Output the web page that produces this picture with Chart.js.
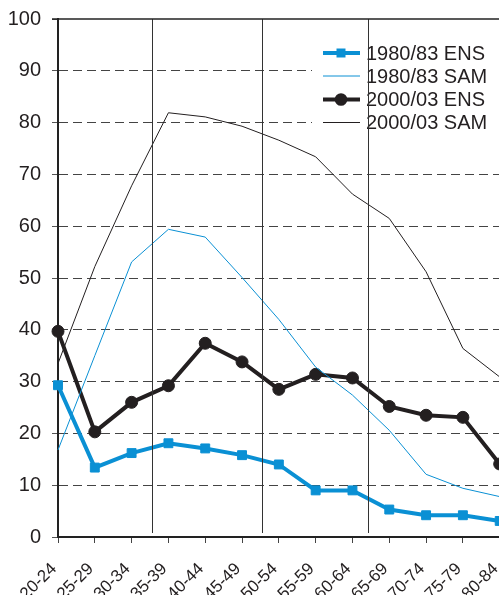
<!DOCTYPE html>
<html>
<head>
<meta charset="utf-8">
<title>ENS / SAM</title>
<script src="https://cdn.jsdelivr.net/npm/chart.js@4.4.1/dist/chart.umd.min.js"></script>
<style>
    html, body { margin: 0; padding: 0; background: #fff; overflow: hidden; }
    canvas { display: block; }
</style>
</head>
<body>
<canvas id="chartCanvas" width="507" height="612"></canvas>
<script>
// Data

var ageGroups = ['20-24', '25-29', '30-34', '35-39', '40-44', '45-49', '50-54',
    '55-59', '60-64', '65-69', '70-74', '75-79', '80-84'];

var ens1980 = [29.3, 13.4, 16.2, 18.1, 17.1, 15.8, 14.0, 9.0, 9.0, 5.3, 4.2, 4.2, 3.1];
var sam1980 = [16.8, 35.0, 53.1, 59.4, 57.9, 50.1, 42.0, 32.8, 27.4, 20.6, 12.1, 9.4, 7.8];
var ens2000 = [39.7, 20.3, 26.0, 29.2, 37.4, 33.8, 28.5, 31.4, 30.7, 25.2, 23.5, 23.1, 14.1];
var sam2000 = [33.5, 52.2, 67.8, 81.9, 81.1, 79.3, 76.6, 73.4, 66.2, 61.5, 51.2, 36.4, 30.9];

var BLUE = '#0a90d4';
var DARK = '#231f20';
var FONT = "'Liberation Sans', Arial, sans-serif";
var AXIS_Y = 537; // pixel row of the x axis

// legend box, vertical separators and top frame, drawn over the datasets
var decorPlugin = {
    id: 'decor',
    afterDatasetsDraw: function (chart) {
        var ctx = chart.ctx;
        var area = chart.chartArea;
        var x = chart.scales.x;
        var step = x.getPixelForValue(1) - x.getPixelForValue(0);

        ctx.save();

        // legend
        ctx.fillStyle = '#fff';
        ctx.fillRect(312, 37, chart.width - 312, 97);
        var rowY = [53, 76, 99.5, 122.5];
        chart.data.datasets.forEach(function (ds, i) {
            var y = rowY[i];
            ctx.strokeStyle = ds.borderColor;
            ctx.lineWidth = ds.borderWidth;
            ctx.beginPath();
            ctx.moveTo(323, y);
            ctx.lineTo(360, y);
            ctx.stroke();
            if (ds.pointRadius > 0) {
                ctx.fillStyle = ds.borderColor;
                ctx.beginPath();
                if (ds.pointStyle === 'rect') {
                    ctx.rect(341 - 4.5, y - 4.5, 9, 9);
                } else {
                    ctx.arc(341, y, 6.3, 0, Math.PI * 2);
                }
                ctx.fill();
            }
            ctx.fillStyle = '#231f20';
            ctx.font = '20px ' + FONT;
            ctx.textAlign = 'left';
            ctx.textBaseline = 'middle';
            ctx.fillText(ds.label, 366, y + 1);
        });

        // separators between periods
        ctx.strokeStyle = '#333';
        ctx.lineWidth = 1;
        [2.55, 5.54, 8.42].forEach(function (f) {
            var px = Math.round(x.getPixelForValue(0) + f * step) + 0.5;
            ctx.beginPath();
            ctx.moveTo(px, area.top);
            ctx.lineTo(px, area.bottom - 4);
            ctx.stroke();
        });

        // top frame
        ctx.strokeStyle = '#222';
        ctx.lineWidth = 1.5;
        ctx.beginPath();
        ctx.moveTo(area.left - 6, area.top);
        ctx.lineTo(chart.width, area.top);
        ctx.stroke();

        ctx.restore();
    }
};

var chartData = {
    labels: ageGroups,
    datasets: [{
        label: '1980/83 ENS',
        data: ens1980,
        borderColor: BLUE,
        backgroundColor: BLUE,
        borderWidth: 4,
        pointStyle: 'rect',
        pointRadius: 6.3,
        pointBorderWidth: 1,
        pointBackgroundColor: BLUE,
        pointBorderColor: BLUE
    }, {
        label: '1980/83 SAM',
        data: sam1980,
        borderColor: BLUE,
        backgroundColor: BLUE,
        borderWidth: 1,
        pointRadius: 0
    }, {
        label: '2000/03 ENS',
        data: ens2000,
        borderColor: DARK,
        backgroundColor: DARK,
        borderWidth: 4,
        pointStyle: 'circle',
        pointRadius: 6,
        pointBorderWidth: 1,
        pointBackgroundColor: DARK,
        pointBorderColor: DARK
    }, {
        label: '2000/03 SAM',
        data: sam2000,
        borderColor: DARK,
        backgroundColor: DARK,
        borderWidth: 1,
        pointRadius: 0
    }]
};

var ctx = document.getElementById('chartCanvas');

var chart = new Chart(ctx, {
    type: 'line',
    data: chartData,
    options: {
        responsive: false,
        animation: false,
        devicePixelRatio: 1,
        layout: { padding: { top: 19, right: 0, left: 0, bottom: 0 } },
        elements: { line: { tension: 0 } },
        datasets: { line: { clip: false } },
        plugins: {
            legend: { display: false },
            tooltip: { enabled: false }
        },
        scales: {
            x: {
                offset: false,
                afterFit: function (scale) {
                    scale.height = 612 - AXIS_Y;
                    scale.paddingLeft = 0;
                    scale.paddingRight = 0;
                },
                border: { display: true, color: '#222', width: 2 },
                grid: {
                    drawOnChartArea: false,
                    drawTicks: true,
                    tickLength: 6,
                    tickColor: '#444',
                    tickWidth: 1
                },
                ticks: {
                    autoSkip: false,
                    maxRotation: 45,
                    minRotation: 45,
                    padding: 16,
                    labelOffset: -4,
                    color: '#231f20',
                    font: { family: FONT, size: 17 }
                }
            },
            y: {
                min: 0,
                max: 100,
                afterFit: function (scale) {
                    scale.width = 58;
                    scale.paddingTop = 0;
                    scale.paddingBottom = 0;
                },
                border: { display: true, color: '#222', width: 2, dash: [9, 5] },
                grid: {
                    color: function (c) {
                        return (c.tick && (c.tick.value === 0 || c.tick.value === 100)) ? 'rgba(0,0,0,0)' : '#444';
                    },
                    lineWidth: 1,
                    tickLength: 6,
                    tickColor: '#555',
                    tickBorderDash: []
                },
                ticks: {
                    stepSize: 10,
                    padding: 11,
                    color: '#231f20',
                    font: { family: FONT, size: 20 }
                }
            }
        }
    },
    plugins: [decorPlugin]
});
</script>
</body>
</html>
